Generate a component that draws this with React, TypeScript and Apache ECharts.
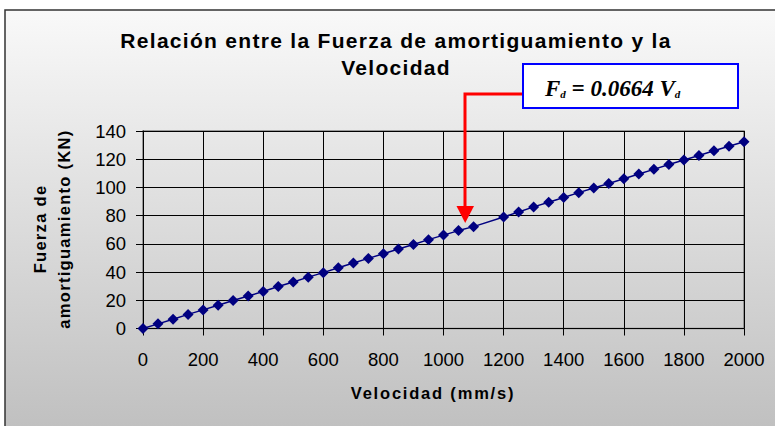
import React, { useEffect, useRef } from "react";
import * as echarts from "echarts";

const velocities = [
  0, 50, 100, 150, 200, 250, 300, 350, 400, 450, 500, 550, 600, 650, 700, 750, 800, 850, 900, 950, 1000, 1050, 1100,
  1200, 1250, 1300, 1350, 1400, 1450, 1500, 1550, 1600, 1650, 1700, 1750, 1800, 1850, 1900, 1950, 2000,
];
const forces = [
  0, 3.3, 6.6, 10.0, 13.2, 16.5, 19.8, 23.0, 26.2, 29.8, 33.0, 36.4, 39.6, 43.0, 46.4, 49.7, 53.0, 56.3, 59.6, 63.0, 66.2, 69.4, 72.2,
  79.0, 82.6, 86.2, 89.5, 92.8, 96.3, 99.6, 102.8, 106.1, 109.5, 112.8, 116.2, 119.4, 122.6, 126.0, 129.2, 132.4,
];
const xTicks = { min: 0, max: 2000, interval: 200 };
const yTicks = { min: 0, max: 140, interval: 20 };
const titleLines = ["Relación entre la Fuerza de amortiguamiento y la", "Velocidad"];
const xAxisTitle = "Velocidad (mm/s)";
const yAxisTitleLines = ["Fuerza de", "amortiguamiento (KN)"];

const css = `
#root svg text[style*="bold"] { letter-spacing: 1.3px; }
#root svg text[style*="600"] { letter-spacing: 1.8px; }
`;

export default function App() {
  const ref = useRef<HTMLDivElement>(null);
  useEffect(() => {
    if (!ref.current) return;
    const chart = echarts.init(ref.current, null, { renderer: "svg" });
    const font = "'Liberation Sans', Arial, sans-serif";
    const serif = "'Liberation Serif', 'Times New Roman', serif";
    chart.setOption({
      animation: false,
      backgroundColor: "#ffffff",
      grid: {
        left: 143,
        right: 31,
        top: 131,
        bottom: 97.5,
        show: true,
        borderColor: "#808080",
        borderWidth: 1.5,
        backgroundColor: "transparent",
      },
      xAxis: {
        type: "value",
        min: xTicks.min,
        max: xTicks.max,
        interval: xTicks.interval,
        axisLine: { show: true, lineStyle: { color: "#000", width: 1 } },
        axisTick: { show: true, inside: false, length: 7, lineStyle: { color: "#000" } },
        axisLabel: {
          color: "#000",
          fontSize: 18.5,
          fontFamily: font,
          margin: 21,
          formatter: (v: number) => String(v),
        },
        splitLine: { show: true, lineStyle: { color: "#000", width: 1 } },
      },
      yAxis: {
        type: "value",
        min: yTicks.min,
        max: yTicks.max,
        interval: yTicks.interval,
        axisLine: { show: true, lineStyle: { color: "#000", width: 1 } },
        axisTick: { show: true, inside: false, length: 7, lineStyle: { color: "#000" } },
        axisLabel: {
          color: "#000",
          fontSize: 18.5,
          fontFamily: font,
          margin: 17,
          formatter: (v: number) => String(v),
        },
        splitLine: { show: true, lineStyle: { color: "#000", width: 1 } },
      },
      series: [
        {
          type: "line",
          data: velocities.map((v, i) => [v, forces[i]]),
          symbol: "diamond",
          symbolSize: 11,
          itemStyle: { color: "#000080" },
          lineStyle: { color: "#000080", width: 1.5 },
          z: 5,
        },
      ],
      graphic: [
        {
          type: "rect",
          z: -10,
          silent: true,
          shape: { x: 5, y: 10, width: 820, height: 440 },
          style: {
            fill: new echarts.graphic.LinearGradient(0, 0, 0, 1, [
              { offset: 0, color: "#f9f9f9" },
              { offset: 1, color: "#bdbdbd" },
            ]),
            stroke: "#333",
            lineWidth: 1.5,
          },
        },
        ...titleLines.map((t, i) => ({
          type: "text",
          x: 396,
          y: 40 + i * 27,
          style: {
            text: t,
            fontFamily: font,
            fontWeight: "bold",
            fontSize: 21,
            fill: "#000",
            align: "center",
            verticalAlign: "middle",
          },
        })),
        {
          type: "text",
          x: 433,
          y: 393,
          style: {
            text: xAxisTitle,
            fontFamily: font,
            fontWeight: 600,
            fontSize: 16.5,
            fill: "#000",
            align: "center",
            verticalAlign: "middle",
          },
        },
        ...yAxisTitleLines.map((t, i) => ({
          type: "text",
          x: 40 + i * 24,
          y: 229,
          rotation: Math.PI / 2,
          style: {
            text: t,
            fontFamily: font,
            fontWeight: "bold",
            fontSize: 16.5,
            fill: "#000",
            align: "center",
            verticalAlign: "middle",
          },
        })),
        {
          type: "polyline",
          z: 20,
          shape: { points: [[523, 94], [465, 94], [465, 207]] },
          style: { stroke: "#ff0000", lineWidth: 3, fill: null },
        },
        {
          type: "polygon",
          z: 20,
          shape: { points: [[456.5, 206], [474, 206], [465.2, 223]] },
          style: { fill: "#ff0000" },
        },
        {
          type: "rect",
          z: 20,
          shape: { x: 523, y: 64, width: 215, height: 44 },
          style: { fill: "#ffffff", stroke: "#0000ff", lineWidth: 2 },
        },
        {
          type: "text",
          z: 21,
          x: 545,
          y: 88,
          style: {
            text: "{a|F}{s|d}{a| = 0.0664 V}{s|d}",
            verticalAlign: "middle",
            rich: {
              a: {
                fontFamily: serif,
                fontStyle: "italic",
                fontWeight: 700,
                fontSize: 23,
                fill: "#000",
              },
              s: {
                fontFamily: serif,
                fontStyle: "italic",
                fontWeight: 700,
                fontSize: 11,
                fill: "#000",
                padding: [11, 0, 0, 0],
              },
            },
          },
        },
      ],
    });
    return () => chart.dispose();
  }, []);
  return (
    <>
      <style>{css}</style>
      <div
        ref={ref}
        style={{ position: "fixed", left: 0, top: 0, width: 775, height: 426 }}
      />
    </>
  );
}
